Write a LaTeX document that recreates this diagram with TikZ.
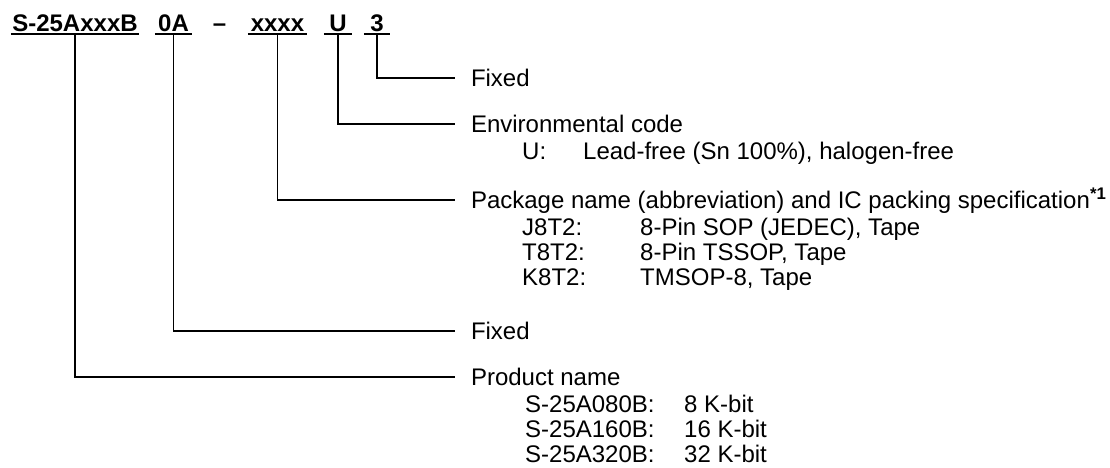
\documentclass[tikz,border=0pt]{standalone}
\usepackage{fontspec}
\setmainfont{Liberation Sans}
\usetikzlibrary{positioning}
\tikzset{
  codepart/.style={font=\fontsize{24}{25}\selectfont\bfseries, anchor=south,
    inner xsep=0pt, inner ysep=2pt, text depth=0pt},
  desc/.style={anchor=west, inner xsep=0pt, outer xsep=16pt, inner ysep=0pt,
    outer ysep=0pt, text height=17pt, text depth=0pt},
  subtext/.style={anchor=west, inner sep=0pt, text height=17pt, text depth=0pt},
  branch/.style={line width=1.9pt},
  underl/.style={line width=2pt},
}

\begin{document}
\begin{tikzpicture}[x=1pt, y=-1pt, font=\fontsize{24}{25}\selectfont]
  \useasboundingbox (0,0) rectangle (1110,468);

  % ordering code
  \node[codepart, minimum width=128pt] (cname) at (75,34) {S-25AxxxB};
  \node[codepart, minimum width=37pt] (cfix) at (173.5,34) {0A};
  \node[codepart] (cdash) at (219.5,34) {--};
  \node[codepart, minimum width=59pt] (cpkg) at (277.5,34) {xxxx};
  \node[codepart, minimum width=28pt] (cenv) at (338,34) {U};
  \node[codepart, minimum width=26pt] (clast) at (377,34) {3};
  \foreach \p in {cname,cfix,cpkg,cenv,clast}
    \draw[underl] (\p.south west) -- (\p.south east);

  % descriptions
  \node[desc] (dlast) at (455,78) {Fixed};
  \node[desc] (denv) at (455,124) {Environmental code};
  \node[desc] (dpkg) at (455,200) {Package name (abbreviation) and IC packing specification\textsuperscript{\bfseries *1}};
  \node[desc] (dfix) at (455,331) {Fixed};
  \node[desc] (dname) at (455,377) {Product name};

  \draw[branch] (clast.south) |- (dlast.west);
  \draw[branch] (cenv.south) |- (denv.west);
  \draw[branch] (cpkg.south) |- (dpkg.west);
  \draw[branch] (cfix.south) |- (dfix.west);
  \draw[branch] (cname.south) |- (dname.west);

  % details
  \node[subtext] (ukey) at (522,151) {U:};
  \node[subtext] (uval) at (583,151) {Lead-free (Sn 100\%), halogen-free};

  \foreach \k/\v [count=\i] in {J8T2:/{8-Pin SOP (JEDEC), Tape}, T8T2:/{8-Pin TSSOP, Tape}, K8T2:/{TMSOP-8, Tape}} {
    \node[subtext] (pk\i) at (522,202+25*\i) {\k};
    \node[subtext] (pv\i) at (640,202+25*\i) {\v};
  }

  \foreach \k/\v [count=\i] in {S-25A080B:/8 K-bit, S-25A160B:/16 K-bit, S-25A320B:/32 K-bit} {
    \node[subtext] (nk\i) at (525,379+25*\i) {\k};
    \node[subtext] (nv\i) at (684,379+25*\i) {\v};
  }
\end{tikzpicture}
\end{document}
